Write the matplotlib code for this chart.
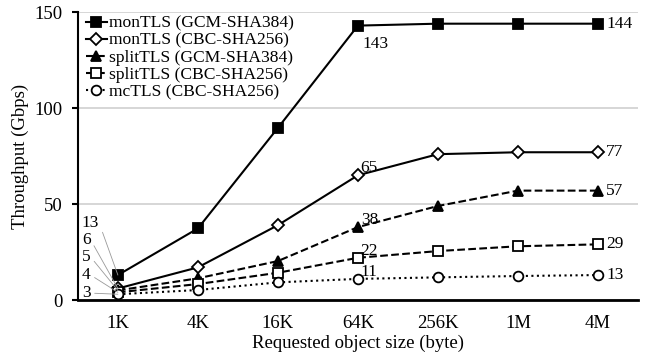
import matplotlib
matplotlib.use("Agg")
import matplotlib.pyplot as plt

plt.rcParams["font.family"] = ["Liberation Serif", "DejaVu Serif"]

SIZES = ["1K", "4K", "16K", "64K", "256K", "1M", "4M"]
MON_GCM = [13, 37.3, 89.7, 143, 144, 144, 144]
MON_CBC = [6, 17, 39, 65, 76, 77, 77]
SPLIT_GCM = [5, 11.3, 20.3, 38, 49, 57, 57]
SPLIT_CBC = [4, 8.3, 14.2, 22, 25.5, 28, 29]
MC_CBC = [3, 5.2, 9.2, 11, 11.8, 12.5, 13]

SERIES = [
    ("monTLS (GCM-SHA384)", MON_GCM, "-", "s", "black"),
    ("monTLS (CBC-SHA256)", MON_CBC, "-", "D", "white"),
    ("splitTLS (GCM-SHA384)", SPLIT_GCM, "--", "^", "black"),
    ("splitTLS (CBC-SHA256)", SPLIT_CBC, "--", "s", "white"),
    ("mcTLS (CBC-SHA256)", MC_CBC, ":", "o", "white"),
]
MARKER_SIZE = {"s": 7, "D": 6.5, "^": 7, "o": 7}
FS = 13.5      # ticks / axis labels
FS_NUM = 12.5  # value labels

fig = plt.figure(figsize=(6.49, 3.58), dpi=100)
ax = fig.add_axes([0.12, 0.162, 0.863, 0.804])

x = list(range(len(SIZES)))
for label, vals, ls, mk, fc in SERIES:
    ax.plot(x, vals, linestyle=ls, marker=mk, color="black", lw=1.5,
            markerfacecolor=fc, markeredgecolor="black", markeredgewidth=1.3,
            markersize=MARKER_SIZE[mk], label=label, zorder=3)

# value labels at 64K and at 4M
ax.annotate("143", (3, MON_GCM[3]), xytext=(3, -16), textcoords="offset points",
            fontsize=FS_NUM)
for vals in (MON_CBC, SPLIT_GCM, SPLIT_CBC, MC_CBC):
    ax.annotate(f"{vals[3]:g}", (3, vals[3]), xytext=(2, 2), textcoords="offset points",
                fontsize=FS_NUM)
for vals in (MON_GCM, MON_CBC, SPLIT_GCM, SPLIT_CBC, MC_CBC):
    ax.annotate(f"{vals[-1]:g}", (6, vals[-1]), xytext=(6, 0), textcoords="offset points",
                fontsize=FS_NUM, va="center")

# leader labels at 1K
left_y = [40, 31.5, 22.5, 13, 3.6]
for vals, ly in zip((MON_GCM, MON_CBC, SPLIT_GCM, SPLIT_CBC, MC_CBC), left_y):
    ax.annotate(f"{vals[0]:g}", xy=(0, vals[0]), xytext=(-0.45, ly),
                fontsize=FS_NUM, va="center", ha="left",
                arrowprops=dict(arrowstyle="-", color="#999999", lw=0.6,
                                shrinkA=1, shrinkB=0,
                                relpos=(1, 0.5)))

ax.set_xlim(-0.5, 6.5)
ax.set_ylim(0, 150)
ax.set_yticks([0, 50, 100, 150])
ax.set_xticks(x)
ax.set_xticklabels(SIZES)
ax.tick_params(axis="x", length=0, labelsize=FS, pad=11)
ax.tick_params(axis="y", length=4, width=1.5, labelsize=FS, pad=7)
ax.grid(axis="y", color="#d0d0d0", lw=1.2)
ax.set_axisbelow(True)
for s in ("top", "right"):
    ax.spines[s].set_visible(False)
ax.spines["left"].set_linewidth(1.5)
ax.spines["bottom"].set_linewidth(2)

ax.set_xlabel("Requested object size (byte)", fontsize=FS, labelpad=2)
ax.set_ylabel("Throughput (Gbps)", fontsize=FS, labelpad=4)

ax.legend(loc="upper left", bbox_to_anchor=(-0.005, 1.025), frameon=False,
          fontsize=12.6, handlelength=1.2, handletextpad=0.15, labelspacing=0.05,
          borderaxespad=0.2)

fig.savefig("out.png", dpi=100)
